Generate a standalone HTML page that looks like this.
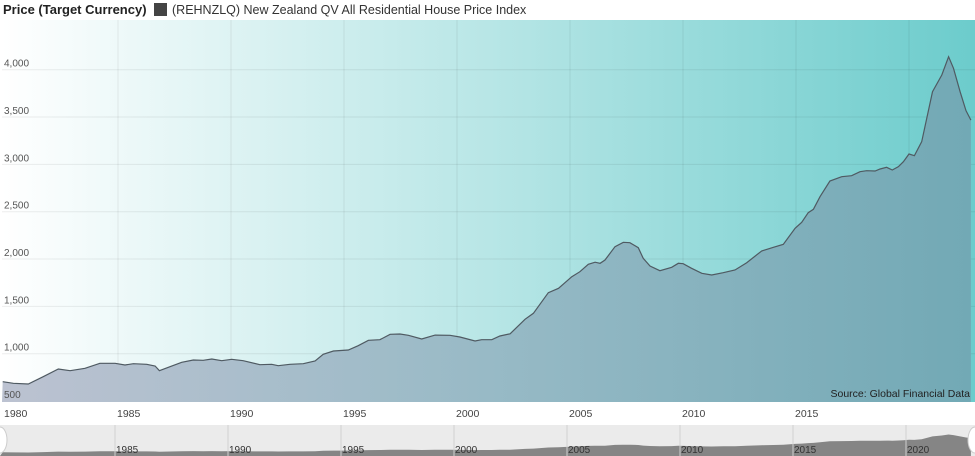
<!DOCTYPE html>
<html><head><meta charset="utf-8"><style>
html,body{margin:0;padding:0;background:#fff;}
svg{display:block;font-family:"Liberation Sans","DejaVu Sans",sans-serif;}
</style></head><body>
<svg id="chart" width="975" height="456" viewBox="0 0 975 456">
<defs>
<linearGradient id="bg" x1="0" x2="1" y1="0" y2="0"><stop offset="0" stop-color="#ffffff"/><stop offset="0.5" stop-color="#b8e6e6"/><stop offset="1" stop-color="#6ccccc"/></linearGradient>
<linearGradient id="ar" x1="0" x2="1" y1="0" y2="0"><stop offset="0" stop-color="#bcc2d1"/><stop offset="0.5" stop-color="#98bac6"/><stop offset="1" stop-color="#72a9b5"/></linearGradient>
</defs>
<text x="3" y="14" font-size="13" font-weight="bold" fill="#222">Price (Target Currency)</text>
<rect x="154" y="3" width="13" height="13" fill="#444"/>
<text x="172" y="14" font-size="12.5" fill="#333">(REHNZLQ) New Zealand QV All Residential House Price Index</text>
<rect x="2" y="20" width="973" height="382" fill="url(#bg)"/>
<g id="grid"></g>
<path id="area" fill="url(#ar)"/>
<path id="line" fill="none" stroke="#4f5a62" stroke-width="1.2"/>
<g id="ylabels"></g>
<text x="970" y="397" font-size="10.5" text-anchor="end" fill="#222">Source: Global Financial Data</text>
<g id="xlabels"></g>
<rect x="0" y="425" width="975" height="31" fill="#ebebeb"/>
<path id="navarea" fill="#858585"/>
<g id="navgrid"></g>
<ellipse cx="0" cy="440" rx="7" ry="13" fill="#fff" stroke="#ccc"/>
<ellipse cx="975" cy="440" rx="7" ry="13" fill="#fff" stroke="#ccc"/>
</svg>
<script>
const years=[1979.9,1980.37,1981.03,1981.69,1982.36,1982.88,1983.54,1984.2,1984.87,1985.31,1985.68,1986.27,1986.64,1986.83,1987.3,1987.82,1988.33,1988.77,1989.15,1989.59,1990.03,1990.54,1991.28,1991.8,1992.09,1992.61,1993.2,1993.72,1994.08,1994.53,1995.19,1995.63,1996.08,1996.59,1997.04,1997.48,1997.85,1998.44,1999.03,1999.69,2000.13,2000.8,2001.09,2001.54,2001.9,2002.35,2003.01,2003.38,2004.04,2004.49,2005.08,2005.44,2005.81,2006.11,2006.33,2006.55,2006.99,2007.36,2007.65,2008.02,2008.24,2008.54,2008.98,2009.5,2009.79,2010.01,2010.38,2010.83,2011.27,2011.78,2012.3,2012.82,2013.48,2014.0,2014.44,2014.96,2015.25,2015.54,2015.77,2016.06,2016.5,2017.02,2017.46,2017.83,2018.13,2018.5,2018.72,2019.01,2019.26,2019.53,2019.75,2020.0,2020.24,2020.56,2021.04,2021.45,2021.75,2021.97,2022.26,2022.52,2022.74];
const prices=[704,687,680,757,838,820,846,899,899,881,894,888,870,820,863,909,933,930,944,926,941,926,884,888,873,888,894,923,994,1029,1039,1085,1142,1148,1205,1208,1194,1155,1197,1194,1176,1134,1148,1148,1187,1210,1363,1427,1644,1691,1813,1866,1944,1966,1955,1990,2130,2177,2172,2120,2008,1926,1877,1913,1955,1951,1902,1849,1831,1856,1884,1961,2085,2124,2156,2325,2388,2489,2525,2658,2824,2870,2880,2922,2933,2930,2951,2969,2940,2975,3028,3109,3091,3239,3767,3944,4137,4015,3768,3567,3468];
const yTicks=[500,1000,1500,2000,2500,3000,3500,4000];
const yTickLabels=["500","1,000","1,500","2,000","2,500","3,000","3,500","4,000"];
const xTicks=[1980,1985,1990,1995,2000,2005,2010,2015];
const navTicks=[1985,1990,1995,2000,2005,2010,2015,2020];
const NS="http://www.w3.org/2000/svg";
const X=t=>5+22.6*(t-1980);
const Y=v=>353.7-(v-1000)*0.09467;
const NY=v=>456-v*0.0052;
function mk(tag,attrs,parent,txt){const e=document.createElementNS(NS,tag);for(const k in attrs)e.setAttribute(k,attrs[k]);if(txt!==undefined)e.textContent=txt;document.getElementById(parent).appendChild(e);return e;}
yTicks.forEach((v,i)=>{
  if(v>500){const g=mk('line',{x1:2,x2:975,y1:Y(v),y2:Y(v),stroke:'#000','stroke-opacity':0.07},'grid');
  
  }
  const t=mk('text',{x:4,y:Y(v)-3,'font-size':10,fill:'#555'},'ylabels',yTickLabels[i]);
  
  
});
for(let yr=1985;yr<=2020;yr+=5){const g=mk('line',{x1:X(yr),x2:X(yr),y1:20,y2:402,stroke:'#000','stroke-opacity':0.07},'grid');
  
  }
xTicks.forEach(yr=>{const t=mk('text',{x:X(yr)-1,y:417,'font-size':10.5,fill:'#444'},'xlabels',String(yr));
  
  });
let d='';years.forEach((t,i)=>{d+=(i?'L':'M')+X(Math.max(t,1979.87)).toFixed(1)+','+Y(prices[i]).toFixed(1);});
document.getElementById('line').setAttribute('d',d);
document.getElementById('area').setAttribute('d',d+'L'+X(years[years.length-1]).toFixed(1)+',402L2,402Z');
let nd='M0,456';years.forEach((t,i)=>{nd+='L'+X(t).toFixed(1)+','+NY(prices[i]).toFixed(1);});
nd+='L'+X(years[years.length-1]).toFixed(1)+',456Z';
document.getElementById('navarea').setAttribute('d',nd);
navTicks.forEach(yr=>{const l=mk('line',{x1:X(yr)-3,x2:X(yr)-3,y1:425,y2:456,stroke:'#d0d0d0'},'navgrid');
  
  
  const t=mk('text',{x:X(yr)-2,y:453,'font-size':10,fill:'#333'},'navgrid',String(yr));
  
  });
</script>
</body></html>
